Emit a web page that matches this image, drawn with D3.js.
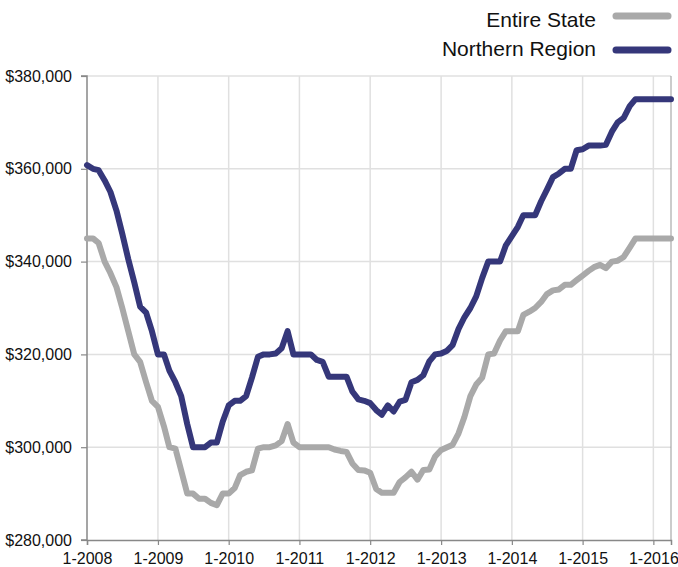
<!DOCTYPE html>
<html><head><meta charset="utf-8">
<script src="https://cdn.jsdelivr.net/npm/d3@7"></script>
<style>
html,body{margin:0;padding:0;background:#fff;}
svg{display:block;font-family:"Liberation Sans",Arial,Helvetica,sans-serif;}
</style></head>
<body><svg id="c" width="678" height="567"></svg>
<script>
// Monthly values, Jan 2008 .. Apr 2016 (thousands of dollars)
const startMonth = [2008, 0];
const northernRegion = [
 360.8,360,359.7,357.5,355,351,346,340.5,335.5,330.3,
 329,325,320,320,316.5,314,311,305,300,300,
 300,301,301,305.5,309,310,310,311,315,319.5,
 320,320,320.2,321.3,325,320,320,320,320,318.8,
 318.4,315.2,315.2,315.2,315.2,312,310.3,310,309.5,308,
 307,309,307.7,309.8,310.2,314,314.5,315.5,318.5,320,
 320.2,320.8,322,325.5,328,330,332.5,336.5,340,340,
 340,343.5,345.5,347.5,350,350,350,353,355.5,358.2,
 359,360,360,364,364.2,365,365,365,365.2,368,
 370,371,373.5,375,375,375,375,375,375,375
];
const entireState = [
 345,345,344,340,337.5,334.5,330,325,320,318.4,
 314,310,308.7,304.5,300,299.7,295,290,290,288.9,
 288.9,288,287.5,290,290,291.2,294,294.7,295,299.7,
 300,300,300.4,301.3,305,301,300,300,300,300,
 300,300,299.5,299.2,299,296.5,295.1,295,294.5,291,
 290.2,290.2,290.2,292.5,293.5,294.7,293,295.1,295.2,298,
 299.4,300,300.5,303,306.5,311,313.5,315,320,320.2,
 323,325,325,325,328.5,329.2,330,331.3,333,333.8,
 334,335,335,336,337,338,338.8,339.3,338.6,340,
 340.2,341,343,345,345,345,345,345,345,345
];
const yTicks = [280000,300000,320000,340000,360000,380000];
const xTickLabels = ["1-2008","1-2009","1-2010","1-2011","1-2012","1-2013","1-2014","1-2015","1-2016"];
const seriesNames = ["Entire State","Northern Region"];
const seriesColors = ["#a9a9a9","#35377a"];

const svg = d3.select("#c");
const m = {left:87, right:7, top:76, bottom:27};
const W = 678, H = 567;
const dates = northernRegion.map((_, i) => new Date(startMonth[0], startMonth[1] + i, 1));
const x = d3.scaleTime().domain([dates[0], dates[dates.length-1]]).range([m.left, W - m.right]);
const y = d3.scaleLinear().domain([280000, 380000]).range([H - m.bottom, m.top]);

// grid
const tickDates = xTickLabels.map(s => new Date(+s.split("-")[1], +s.split("-")[0]-1, 1));
svg.append("g").selectAll("line").data(tickDates.slice(1)).join("line")
  .attr("x1", d => x(d)).attr("x2", d => x(d)).attr("y1", m.top).attr("y2", H - m.bottom)
  .attr("stroke", "#e0e0e0").attr("stroke-width", 1.5);
svg.append("g").selectAll("line").data(yTicks.slice(1)).join("line")
  .attr("x1", m.left).attr("x2", W - m.right).attr("y1", d => y(d)).attr("y2", d => y(d))
  .attr("stroke", "#e0e0e0").attr("stroke-width", 1.5);
// right border
svg.append("line").attr("x1", W - m.right).attr("x2", W - m.right).attr("y1", m.top).attr("y2", H - m.bottom)
  .attr("stroke", "#999").attr("stroke-width", 1);

// axes
const yAxis = d3.axisLeft(y).tickValues(yTicks).tickFormat(d => "$" + d3.format(",")(d)).tickSize(6).tickPadding(9);
const gy = svg.append("g").attr("transform", `translate(${m.left},0)`).call(yAxis);
const xAxis = d3.axisBottom(x).tickValues(tickDates).tickFormat((d, i) => xTickLabels[i]).tickSize(5).tickPadding(8);
const gx = svg.append("g").attr("transform", `translate(0,${H - m.bottom})`).call(xAxis);
[gy, gx].forEach(g => {
  g.select(".domain").attr("stroke", "#888").attr("stroke-width", 1.5);
  g.selectAll(".tick line").attr("stroke", "#888").attr("stroke-width", 1.2);
  g.selectAll("text").attr("fill", "#111");
});
gy.selectAll("text").style("font-size", "16px");
gx.selectAll("text").style("font-size", "16px");
gy.select(".domain").attr("d", `M-6,${m.top}H0V${H - m.bottom}H-6`);

// lines
const line = d3.line().x((d, i) => x(dates[i])).y(d => y(d * 1000)).curve(d3.curveLinear);
[entireState, northernRegion].forEach((s, k) => {
  svg.append("path").datum(s).attr("d", line).attr("fill", "none")
    .attr("stroke", seriesColors[k]).attr("stroke-width", 6)
    .attr("stroke-linejoin", "round").attr("stroke-linecap", "round");
});

// legend
const legendText = [27, 56], legendLine = [16, 50];
seriesNames.forEach((n, k) => {
  svg.append("text").attr("x", 596).attr("y", legendText[k]).attr("text-anchor", "end")
    .style("font-size", "21px").attr("fill", "#111").text(n);
  svg.append("line").attr("x1", 616).attr("x2", 668).attr("y1", legendLine[k]).attr("y2", legendLine[k])
    .attr("stroke", seriesColors[k]).attr("stroke-width", 7).attr("stroke-linecap", "round");
});
</script></body></html>
